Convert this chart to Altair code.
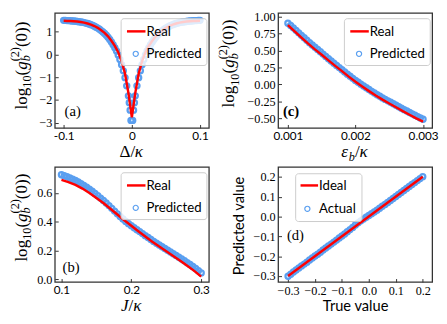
import altair as alt
import pandas as pd

# ---------------- data ----------------
# (a) detuning scan
a_delta_real = [-0.100, -0.095, -0.090, -0.085, -0.080, -0.075, -0.070, -0.065, -0.060, -0.055,
                -0.050, -0.045, -0.040, -0.035, -0.030, -0.025, -0.020, -0.015, -0.010, -0.005,
                0.000, 0.005, 0.010, 0.015, 0.020, 0.025, 0.030, 0.035, 0.040, 0.045,
                0.050, 0.055, 0.060, 0.065, 0.070, 0.075, 0.080, 0.085, 0.090, 0.095, 0.100]
a_real = [1.48, 1.475, 1.47, 1.46, 1.45, 1.43, 1.40, 1.36, 1.31, 1.25,
          1.17, 1.06, 0.95, 0.80, 0.60, 0.38, 0.10, -0.30, -0.85, -1.70,
          -2.76, -1.70, -0.85, -0.30, 0.10, 0.38, 0.60, 0.80, 0.95, 1.06,
          1.17, 1.25, 1.31, 1.36, 1.40, 1.43, 1.45, 1.46, 1.47, 1.475, 1.48]
a_delta_pred = [-0.1000, -0.0975, -0.0950, -0.0925, -0.0900, -0.0875, -0.0850, -0.0825, -0.0800, -0.0775,
                -0.0750, -0.0725, -0.0700, -0.0675, -0.0650, -0.0625, -0.0600, -0.0575, -0.0550, -0.0525,
                -0.0500, -0.0475, -0.0450, -0.0425, -0.0400, -0.0375, -0.0350, -0.0325, -0.0300, -0.0275,
                -0.0250, -0.0225, -0.0200, -0.0175, -0.0150, -0.0125, -0.0100, -0.0075, -0.0050, -0.00375,
                -0.0025, -0.00125,
                0.00125, 0.0025, 0.00375, 0.0050, 0.0075, 0.0100, 0.0125, 0.0150, 0.0175, 0.0200,
                0.0225, 0.0250, 0.0275, 0.0300, 0.0325, 0.0350, 0.0375, 0.0400, 0.0425, 0.0450,
                0.0475, 0.0500, 0.0525, 0.0550, 0.0575, 0.0600, 0.0625, 0.0650, 0.0675, 0.0700,
                0.0725, 0.0750, 0.0775, 0.0800, 0.0825, 0.0850, 0.0875, 0.0900, 0.0925, 0.0950,
                0.0975, 0.1000]
a_pred = [1.50, 1.50, 1.49, 1.49, 1.48, 1.47, 1.47, 1.46, 1.45, 1.44,
          1.43, 1.42, 1.40, 1.38, 1.36, 1.34, 1.31, 1.28, 1.24, 1.20,
          1.16, 1.11, 1.05, 0.99, 0.92, 0.85, 0.76, 0.66, 0.55, 0.43,
          0.30, 0.15, -0.02, -0.22, -0.45, -0.72, -1.02, -1.38, -1.82, -2.12,
          -2.45, -2.90,
          -2.90, -2.45, -2.12, -1.82, -1.38, -1.02, -0.72, -0.45, -0.22, -0.02,
          0.15, 0.30, 0.43, 0.55, 0.66, 0.76, 0.85, 0.92, 0.99, 1.05,
          1.11, 1.16, 1.20, 1.24, 1.28, 1.31, 1.34, 1.36, 1.38, 1.40,
          1.42, 1.43, 1.44, 1.45, 1.46, 1.47, 1.47, 1.48, 1.49, 1.49,
          1.50, 1.50]

# (b) coupling scan
b_j_real = [0.10, 0.11, 0.12, 0.13, 0.14, 0.15, 0.16, 0.17, 0.18, 0.19, 0.20,
            0.21, 0.22, 0.23, 0.24, 0.25, 0.26, 0.27, 0.28, 0.29, 0.30]
b_real = [0.690, 0.675, 0.655, 0.630, 0.600, 0.565, 0.530, 0.490, 0.450, 0.410, 0.372,
          0.335, 0.298, 0.262, 0.228, 0.196, 0.163, 0.130, 0.096, 0.060, 0.020]
b_j_pred = [0.100, 0.104, 0.108, 0.112, 0.116, 0.120, 0.124, 0.128, 0.132, 0.136,
            0.140, 0.144, 0.148, 0.152, 0.156, 0.160, 0.164, 0.168, 0.172, 0.176,
            0.180, 0.184, 0.188, 0.192, 0.196, 0.200, 0.204, 0.208, 0.212, 0.216,
            0.220, 0.224, 0.228, 0.232, 0.236, 0.240, 0.244, 0.248, 0.252, 0.256,
            0.260, 0.264, 0.268, 0.272, 0.276, 0.280, 0.284, 0.288, 0.292, 0.296, 0.300]
b_pred = [0.726, 0.719, 0.713, 0.704, 0.695, 0.686, 0.675, 0.664, 0.652, 0.639,
          0.626, 0.611, 0.596, 0.580, 0.564, 0.548, 0.530, 0.512, 0.493, 0.474,
          0.455, 0.437, 0.419, 0.402, 0.387, 0.373, 0.359, 0.345, 0.332, 0.318,
          0.304, 0.291, 0.277, 0.264, 0.251, 0.239, 0.227, 0.215, 0.203, 0.191,
          0.179, 0.167, 0.155, 0.142, 0.130, 0.117, 0.104, 0.090, 0.076, 0.061, 0.046]

# (c) drive scan
c_eps_real = [0.0010, 0.0011, 0.0012, 0.0013, 0.0014, 0.0015, 0.0016, 0.0017, 0.0018, 0.0019, 0.0020,
              0.0021, 0.0022, 0.0023, 0.0024, 0.0025, 0.0026, 0.0027, 0.0028, 0.0029, 0.0030]
c_real = [0.880, 0.785, 0.693, 0.604, 0.520, 0.440, 0.356, 0.275, 0.198, 0.117, 0.040,
          -0.030, -0.098, -0.163, -0.223, -0.280, -0.336, -0.393, -0.447, -0.500, -0.550]
c_eps_pred = [0.00100, 0.00104, 0.00108, 0.00112, 0.00116, 0.00120, 0.00124, 0.00128, 0.00132, 0.00136,
              0.00140, 0.00144, 0.00148, 0.00152, 0.00156, 0.00160, 0.00164, 0.00168, 0.00172, 0.00176,
              0.00180, 0.00184, 0.00188, 0.00192, 0.00196, 0.00200, 0.00204, 0.00208, 0.00212, 0.00216,
              0.00220, 0.00224, 0.00228, 0.00232, 0.00236, 0.00240, 0.00244, 0.00248, 0.00252, 0.00256,
              0.00260, 0.00264, 0.00268, 0.00272, 0.00276, 0.00280, 0.00284, 0.00288, 0.00292, 0.00296,
              0.00300]
c_pred = [0.905, 0.873, 0.838, 0.801, 0.764, 0.727, 0.691, 0.655, 0.619, 0.585,
          0.550, 0.517, 0.484, 0.450, 0.416, 0.381, 0.348, 0.314, 0.282, 0.250,
          0.218, 0.186, 0.153, 0.122, 0.091, 0.060, 0.033, 0.005, -0.022, -0.049,
          -0.075, -0.101, -0.126, -0.151, -0.174, -0.198, -0.220, -0.242, -0.263, -0.285,
          -0.306, -0.329, -0.351, -0.372, -0.392, -0.414, -0.434, -0.455, -0.475, -0.495,
          -0.515]

# (d) parity plot
d_true_ideal = [-0.3, 0.2]
d_ideal = [-0.3, 0.2]
d_true = [-0.30, -0.29, -0.28, -0.27, -0.26, -0.25, -0.24, -0.23, -0.22, -0.21,
          -0.20, -0.19, -0.18, -0.17, -0.16, -0.15, -0.14, -0.13, -0.12, -0.11,
          -0.10, -0.09, -0.08, -0.07, -0.06, -0.05, -0.04, -0.03, -0.02, -0.01,
          0.00, 0.01, 0.02, 0.03, 0.04, 0.05, 0.06, 0.07, 0.08, 0.09,
          0.10, 0.11, 0.12, 0.13, 0.14, 0.15, 0.16, 0.17, 0.18, 0.19, 0.20]
d_actual = [-0.301, -0.291, -0.280, -0.270, -0.259, -0.249, -0.240, -0.230, -0.219, -0.209,
            -0.199, -0.190, -0.180, -0.169, -0.159, -0.149, -0.139, -0.129, -0.119, -0.108,
            -0.098, -0.088, -0.077, -0.066, -0.055, -0.043, -0.032, -0.022, -0.013, -0.004,
            0.005, 0.014, 0.023, 0.032, 0.042, 0.052, 0.061, 0.071, 0.081, 0.091,
            0.101, 0.111, 0.121, 0.131, 0.141, 0.151, 0.161, 0.171, 0.181, 0.191, 0.201]

legend_abc = ["Real", "Predicted"]
legend_d = ["Ideal", "Actual"]
panel_tags = ["(a)", "(b)", "(c)", "(d)"]

ticks_a_x = [-0.1, 0.0, 0.1]
ticks_a_y = [-3, -2, -1, 0, 1]
ticks_b_x = [0.1, 0.2, 0.3]
ticks_b_y = [0.0, 0.2, 0.4, 0.6]
ticks_c_x = [0.001, 0.002, 0.003]
ticks_c_y = [-0.5, -0.25, 0.0, 0.25, 0.5, 0.75, 1.0]
ticks_d = [-0.3, -0.2, -0.1, 0.0, 0.1, 0.2]

# ---------------- style ----------------
W, H = 158, 118
RED = "#ff0000"
BLUE = "#5a9ff0"
SERIF = "Liberation Serif"
SANS = "Lato"
ONE = pd.DataFrame({"k": [0]})

EM = {"l": 0.278, "o": 0.5, "g": 0.5, "(": 0.333, ")": 0.333, "/": 0.278, "Δ": 0.612,
      "κ": 0.55, "ε": 0.44, "J": 0.444, "b": 0.5, " ": 0.25}


def tw(s, size):
    return sum(EM.get(ch, 0.5) for ch in s) * size


def text_piece(s, x, y, size, italic=False, angle=0, align="left", baseline="alphabetic",
               font=SERIF, weight="normal"):
    kw = dict(align=align, baseline=baseline, font=font, fontSize=size,
              fontWeight=weight, color="black")
    if italic:
        kw["fontStyle"] = "italic"
    if angle:
        kw["angle"] = angle
    return alt.Chart(ONE).mark_text(**kw).encode(
        x=alt.value(x), y=alt.value(y), text=alt.value(s))


YT = [("log", 17.5, False, 0, True), ("10", 12.5, False, 4.5, True),
      ("(", 17.5, False, 0, True), ("g", 17.5, True, 0, True),
      ("b", 12.5, True, 4.0, False), ("(2)", 12.5, False, -7.5, True),
      ("(0))", 17.5, False, 0, True)]


def ytitle(base_x, center_y):
    total = sum(tw(s, sz) for s, sz, it, sh, adv in YT if adv)
    y0 = center_y + total / 2
    out, cum = [], 0
    for s, sz, it, sh, adv in YT:
        out.append(text_piece(s, base_x + sh, y0 - cum, sz, it, angle=270))
        if adv:
            cum += tw(s, sz)
    return out


def xtitle(pieces, center_x, base_y):
    total = sum(tw(s, sz) for s, sz, it, sh in pieces)
    x0 = center_x - total / 2
    out, cum = [], 0
    for s, sz, it, sh in pieces:
        out.append(text_piece(s, x0 + cum, base_y + sh, sz, it))
        cum += tw(s, sz)
    return out


def legend(labels, box, line, circ, tx):
    bx0, bx1, by0, by1 = box
    rect = alt.Chart(ONE).mark_rect(fill="white", fillOpacity=0.8, stroke="#cccccc",
                                    strokeWidth=1, cornerRadius=3).encode(
        x=alt.value(bx0), x2=alt.value(bx1), y=alt.value(by0), y2=alt.value(by1))
    rule = alt.Chart(ONE).mark_rule(color=RED, strokeWidth=2.5).encode(
        x=alt.value(line[0]), x2=alt.value(line[1]), y=alt.value(line[2]))
    dot = alt.Chart(ONE).mark_point(shape="circle", filled=False, color=BLUE, size=28,
                                    strokeWidth=1.2, opacity=1).encode(
        x=alt.value(circ[0]), y=alt.value(circ[1]))
    t1 = text_piece(labels[0], tx, line[2] + 0.5, 13.5, font=SANS, baseline="middle")
    t2 = text_piece(labels[1], tx, circ[1] + 0.5, 13.5, font=SANS, baseline="middle")
    return [rect, rule, dot, t1, t2]


def xaxis(values, fmt, font, size, title=None, **extra):
    kw = dict(values=values, format=fmt, labelFont=font, labelFontSize=size,
              labelColor="black", labelPadding=2.5, labelOverlap=False, labelFlush=False,
              domain=False, grid=False, ticks=True, tickSize=3.5, tickColor="#333333",
              tickWidth=1, offset=-3.5, title=title)
    kw.update(extra)
    return alt.Axis(**kw)


def yaxis(values, fmt, title=None, **extra):
    kw = dict(values=values, format=fmt, labelFont=SERIF, labelFontSize=12.5,
              labelColor="black", labelPadding=3, labelOverlap=False, labelFlush=False,
              domain=False, grid=False, ticks=True, tickSize=3.5, tickColor="#333333",
              tickWidth=1, offset=-3.5, title=title)
    kw.update(extra)
    return alt.Axis(**kw)


def data_layers(rx, ry, px, py, xdom, ydom, xax, yax):
    real = pd.DataFrame({"x": rx, "y": ry})
    pred = pd.DataFrame({"x": px, "y": py})
    X = alt.X("x:Q", scale=alt.Scale(domain=xdom, nice=False, zero=False), axis=xax)
    Y = alt.Y("y:Q", scale=alt.Scale(domain=ydom, nice=False, zero=False), axis=yax)
    pts = alt.Chart(pred).mark_point(shape="circle", filled=False, color=BLUE, size=28,
                                     strokeWidth=2.3, opacity=1).encode(x=X, y=Y)
    ln = alt.Chart(real).mark_line(color=RED, strokeWidth=2.5).encode(x=X, y=Y)
    return [pts, ln]


LEG_ABC = dict(box=(68, 156, 6, 54), line=(74, 93, 19), circ=(83, 42), tx=94)
XT_BASE = 147.5

# ---------------- panels ----------------
pa = alt.layer(
    *data_layers(a_delta_real, a_real, a_delta_pred, a_pred, [-0.113, 0.113], [-3.23, 1.83],
                 xaxis(ticks_a_x, ".1~f", SANS, 12, labelExpr="replace(datum.label, '−', '-')"),
                 yaxis(ticks_a_y, "d")),
    *legend(legend_abc, **LEG_ABC),
    text_piece(panel_tags[0], 10, 101, 15, baseline="middle"),
    *ytitle(-29, 54),
    *xtitle([("Δ/", 17.5, False, 0), ("κ", 17.5, True, 0)], W / 2, XT_BASE),
).properties(width=W, height=H)

pb = alt.layer(
    *data_layers(b_j_real, b_real, b_j_pred, b_pred, [0.0905, 0.311], [-0.017, 0.78],
                 xaxis(ticks_b_x, ".1f", SANS, 12),
                 yaxis(ticks_b_y, ".1f")),
    *legend(legend_abc, **LEG_ABC),
    text_piece(panel_tags[1], 8, 103, 15, baseline="middle"),
    *ytitle(-29, 52),
    *xtitle([("J", 17.5, True, 0), ("/", 17.5, False, 0), ("κ", 17.5, True, 0)], W / 2, XT_BASE),
).properties(width=W, height=H)

pc = alt.layer(
    *data_layers(c_eps_real, c_real, c_eps_pred, c_pred, [0.000855, 0.003135], [-0.642, 1.06],
                 xaxis(ticks_c_x, ".3f", SANS, 12),
                 yaxis(ticks_c_y, ".2f")),
    *legend(legend_abc, **LEG_ABC),
    text_piece(panel_tags[2], 5, 101, 15, baseline="middle", weight="bold"),
    *ytitle(-45, 52),
    *xtitle([("ε", 17.5, True, 0), ("b", 12.5, True, 4), ("/", 17.5, False, 0),
             ("κ", 17.5, True, 0)], W / 2, XT_BASE),
).properties(width=W, height=H)

pd_ = alt.layer(
    *data_layers(d_true_ideal, d_ideal, d_true, d_actual, [-0.337, 0.235], [-0.33, 0.25],
                 xaxis(ticks_d, ".1f", SERIF, 12.5, title="True value", titleFont=SANS,
                       titleFontSize=15, titleFontWeight="normal", titleColor="black",
                       titleX=79, titleY=32.5, titleBaseline="alphabetic", titleAlign="center"),
                 yaxis(ticks_d, ".1f", title="Predicted value", titleFont=SANS,
                       titleFontSize=15, titleFontWeight="normal", titleColor="black",
                       titleX=-38.5, titleY=60, titleAngle=270, titleBaseline="alphabetic",
                       titleAlign="center")),
    *legend(legend_d, box=(18, 86, 7, 56), line=(23, 41, 19), circ=(30, 43), tx=42),
    text_piece(panel_tags[3], 9, 70, 15, baseline="middle"),
).properties(width=W, height=H)

chart = alt.concat(
    pa, pc, pb, pd_, columns=2, spacing={"row": 40, "column": 71}, bounds="flush"
).properties(
    padding={"left": 0, "top": -2, "right": 0, "bottom": 0}
).configure_view(stroke="#333333", strokeWidth=1.3)

chart.save("out.html", embed_options={"renderer": "svg", "actions": False})
